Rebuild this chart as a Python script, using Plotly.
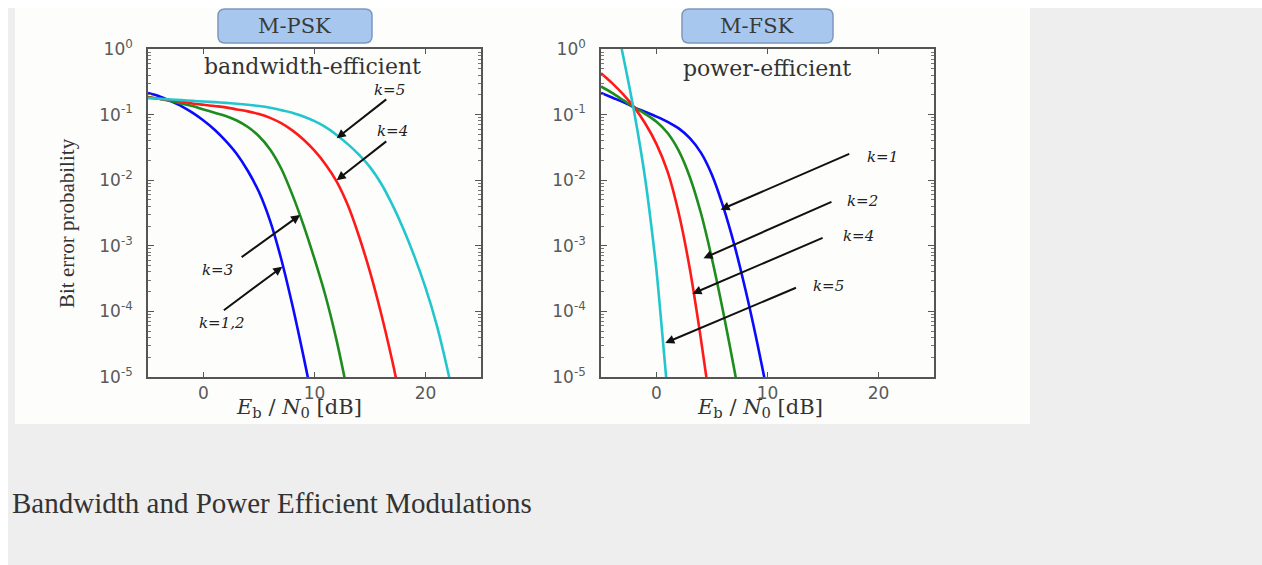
import plotly.graph_objects as go

# ---------------- data ----------------
# M-PSK (bandwidth-efficient)
psk_k12_ebn0 = list(range(-5, 11))
psk_k12_ber = [0.214, 0.191, 0.162, 0.135, 0.107, 0.0813, 0.0589, 0.0398, 0.0251, 0.0138,
               0.0066, 0.0024, 6.3e-4, 1.26e-4, 2.1e-5, 3.2e-6]
psk_k3_ebn0 = list(range(-5, 14))
psk_k3_ber = [0.186, 0.174, 0.162, 0.148, 0.135, 0.120, 0.107, 0.0955, 0.0813, 0.0646,
              0.0468, 0.0295, 0.0151, 0.00603, 0.00209, 6.3e-4, 1.70e-4, 3.55e-5, 5.6e-6]
psk_k4_ebn0 = list(range(-5, 19))
psk_k4_ber = [0.182, 0.174, 0.166, 0.158, 0.148, 0.141, 0.135, 0.129, 0.120, 0.112,
              0.102, 0.0891, 0.0741, 0.0575, 0.0417, 0.0282, 0.0174, 0.00955, 0.00417,
              0.00141, 4.0e-4, 9.3e-5, 1.78e-5, 2.8e-6]
psk_k5_ebn0 = list(range(-5, 24))
psk_k5_ber = [0.178, 0.174, 0.170, 0.166, 0.162, 0.158, 0.155, 0.151, 0.146, 0.141,
              0.135, 0.127, 0.117, 0.107, 0.0933, 0.0794, 0.0646, 0.0490, 0.0355, 0.0245,
              0.0158, 0.00891, 0.00427, 0.00182, 6.9e-4, 2.3e-4, 6.3e-5, 1.26e-5, 2.0e-6]

# M-FSK (power-efficient)
fsk_k1_ebn0 = list(range(-5, 11))
fsk_k1_ber = [0.214, 0.182, 0.155, 0.129, 0.110, 0.0933, 0.0776, 0.0617, 0.0437, 0.0263,
              0.0120, 0.00398, 0.00105, 2.19e-4, 3.8e-5, 5.6e-6]
fsk_k2_ebn0 = list(range(-5, 9))
fsk_k2_ber = [0.269, 0.214, 0.166, 0.129, 0.102, 0.0776, 0.0525, 0.0282, 0.0112, 0.00316,
              6.3e-4, 1.0e-4, 1.32e-5, 1.6e-6]
fsk_k4_ebn0 = list(range(-5, 6))
fsk_k4_ber = [0.427, 0.302, 0.204, 0.129, 0.0724, 0.0355, 0.0135, 0.00316, 4.47e-4,
              3.8e-5, 2.5e-6]
fsk_k5_ebn0 = [-3.5, -3, -2.5, -2, -1.5, -1, -0.5, 0, 0.5, 1]
fsk_k5_ber = [2.0, 0.776, 0.295, 0.107, 0.0347, 0.01, 0.00224, 4.17e-4, 5.0e-5, 5.6e-6]

x_tickvals = [0, 10, 20]
y_tickvals = [1e-5, 1e-4, 1e-3, 1e-2, 1e-1, 1]
y_ticktext = ["10<sup>-5</sup>", "10<sup>-4</sup>", "10<sup>-3</sup>", "10<sup>-2</sup>",
              "10<sup>-1</sup>", "10<sup>0</sup>"]

panel_titles = ["M-PSK", "M-FSK"]
panel_notes = ["bandwidth-efficient", "power-efficient"]
caption = "Bandwidth and Power Efficient Modulations"

# labels with arrows: (label, head x, head log10 y, tail x, tail log10 y, text x, text log10 y)
psk_labels = [
    ("k=5", 12.0, -1.36, 16.6, -0.75, 16.8, -0.63),
    ("k=4", 12.0, -2.00, 16.6, -1.39, 17.0, -1.25),
    ("k=3", 8.7, -2.53, 3.3, -3.19, 1.3, -3.37),
    ("k=1,2", 7.1, -3.32, 1.7, -4.00, 1.7, -4.18),
]
fsk_labels = [
    ("k=1", 5.77, -2.45, 17.5, -1.59, 20.4, -1.64),
    ("k=2", 4.23, -3.19, 15.9, -2.32, 18.6, -2.31),
    ("k=4", 3.24, -3.73, 15.1, -2.87, 18.2, -2.85),
    ("k=5", 0.79, -4.48, 12.7, -3.63, 15.5, -3.61),
]

# ---------------- layout helpers (page pixels -> paper) ----------------
OX, OY = 8, 8          # figure placed at the page's (8, 8)
W, H = 1254, 557


def fx(X):
    return (X - OX) / W


def fy(Y):
    return 1 - (Y - OY) / H


BLUE, GREEN, RED, CYAN = "#0a0aff", "#1e8c1e", "#ff1a1a", "#22c6cc"
LW = 2.6

fig = go.Figure()


def add_curve(x, y, color, xa, ya):
    fig.add_trace(go.Scatter(x=x, y=y, mode="lines", xaxis=xa, yaxis=ya,
                             line=dict(color=color, width=LW, shape="spline", smoothing=0.9),
                             showlegend=False, hoverinfo="skip"))


add_curve(psk_k12_ebn0, psk_k12_ber, BLUE, "x", "y")
add_curve(psk_k3_ebn0, psk_k3_ber, GREEN, "x", "y")
add_curve(psk_k4_ebn0, psk_k4_ber, RED, "x", "y")
add_curve(psk_k5_ebn0, psk_k5_ber, CYAN, "x", "y")

add_curve(fsk_k1_ebn0, fsk_k1_ber, BLUE, "x2", "y2")
add_curve(fsk_k2_ebn0, fsk_k2_ber, GREEN, "x2", "y2")
add_curve(fsk_k4_ebn0, fsk_k4_ber, RED, "x2", "y2")
add_curve(fsk_k5_ebn0, fsk_k5_ber, CYAN, "x2", "y2")

AXC = "#555555"
tickfont = dict(family="DejaVu Sans", size=17, color="#5a5a5a")
minor_vals = [m * 10.0 ** e for e in range(-5, 0) for m in range(2, 10)]

xcommon = dict(range=[-5, 25], tickvals=x_tickvals, showline=True, linecolor=AXC,
               linewidth=1.6, mirror="ticks", ticks="inside", ticklen=5, tickcolor=AXC,
               showgrid=False, zeroline=False, tickfont=tickfont, fixedrange=True,
               automargin=False)
ycommon = dict(type="log", range=[-5, 0], tickvals=y_tickvals, ticktext=y_ticktext,
               showline=True, linecolor=AXC, linewidth=1.6, mirror="ticks", ticks="inside",
               ticklen=6, tickcolor=AXC, showgrid=False, zeroline=False, tickfont=tickfont,
               ticklabelstandoff=10, automargin=False, fixedrange=True,
               minor=dict(tickmode="array", tickvals=minor_vals, ticks="inside", ticklen=3,
                          tickcolor="#777777", showgrid=False))

ydom = [fy(377), fy(49)]
fig.update_layout(
    width=W, height=H, margin=dict(l=0, r=0, t=0, b=0, pad=0, autoexpand=False),
    autosize=False,
    paper_bgcolor="#eeeeee", plot_bgcolor="rgba(0,0,0,0)",
    xaxis=dict(domain=[fx(148), fx(481)], anchor="y", **xcommon),
    yaxis=dict(domain=ydom, anchor="x", **ycommon),
    xaxis2=dict(domain=[fx(601), fx(934)], anchor="y2", **xcommon),
    yaxis2=dict(domain=ydom, anchor="x2", **ycommon),
)


def rounded_rect(X0, Y0, X1, Y1, r):
    rx, ry = r / W, r / H
    x0, x1 = fx(X0), fx(X1)
    y0, y1 = fy(Y1), fy(Y0)   # bottom, top in paper
    return (f"M {x0+rx},{y0} L {x1-rx},{y0} Q {x1},{y0} {x1},{y0+ry} "
            f"L {x1},{y1-ry} Q {x1},{y1} {x1-rx},{y1} L {x0+rx},{y1} "
            f"Q {x0},{y1} {x0},{y1-ry} L {x0},{y0+ry} Q {x0},{y0} {x0+rx},{y0} Z")


shapes = [
    # white picture area
    dict(type="rect", xref="paper", yref="paper", x0=fx(15), x1=fx(1030), y0=fy(424), y1=fy(8),
         fillcolor="#fdfefc", line=dict(width=0), layer="below"),
    dict(type="path", xref="paper", yref="paper", path=rounded_rect(218, 9, 372, 43, 7),
         fillcolor="#a8c7ee", line=dict(color="#7d98be", width=1.5), layer="above"),
    dict(type="path", xref="paper", yref="paper", path=rounded_rect(682, 9, 833, 43, 7),
         fillcolor="#a8c7ee", line=dict(color="#7d98be", width=1.5), layer="above"),
]
fig.update_layout(shapes=shapes)

serif_wide = "DejaVu Serif"
ann = []
# box titles
for t, cx in zip(panel_titles, [294, 757]):
    ann.append(dict(text=t, x=fx(cx), y=fy(26), xref="paper", yref="paper", showarrow=False,
                    xanchor="center", yanchor="middle",
                    font=dict(family=serif_wide, size=21, color="#3a3a3a")))
# panel notes
for t, cx, cy in zip(panel_notes, [312, 767], [67, 69]):
    ann.append(dict(text=t, x=fx(cx), y=fy(cy), xref="paper", yref="paper", showarrow=False,
                    xanchor="center", yanchor="middle",
                    font=dict(family=serif_wide, size=22, color="#333333")))
# axis titles
for cx in [299, 760]:
    ann.append(dict(text="<i>E</i><sub>b</sub> / <i>N</i><sub>0</sub> [dB]", x=fx(cx), y=fy(408),
                    xref="paper", yref="paper", showarrow=False, xanchor="center",
                    yanchor="middle", font=dict(family=serif_wide, size=21, color="#333333")))
ann.append(dict(text="Bit error probability", x=fx(67), y=fy(223), xref="paper", yref="paper",
                showarrow=False, textangle=-90, xanchor="center", yanchor="middle",
                font=dict(family="Liberation Serif", size=21, color="#333333")))

# curve labels with arrows
for labels, xr, yr in [(psk_labels, "x", "y"), (fsk_labels, "x2", "y2")]:
    for (t, hx, hy, tx, ty, lx, ly) in labels:
        ann.append(dict(text="", x=hx, y=hy, ax=tx, ay=ty, xref=xr, yref=yr, axref=xr, ayref=yr,
                        showarrow=True, arrowhead=2, arrowsize=0.9, arrowwidth=2,
                        arrowcolor="#111111", standoff=0, startstandoff=0))
        ann.append(dict(text=t, x=lx, y=ly, xref=xr, yref=yr, showarrow=False,
                        xanchor="center", yanchor="middle",
                        font=dict(family=serif_wide, size=15, color="#222222", style="italic")))

# caption
ann.append(dict(text=caption, x=fx(10), y=fy(503), xref="paper", yref="paper", showarrow=False,
                xanchor="left", yanchor="middle",
                font=dict(family="Liberation Serif", size=29, color="#333333")))

fig.update_layout(annotations=ann)

# keep the page's white strip at top/left only, so the grey page reaches the right and bottom edges
fig.write_html("out.html", post_script="document.body.style.margin='8px 0 0 8px';")
